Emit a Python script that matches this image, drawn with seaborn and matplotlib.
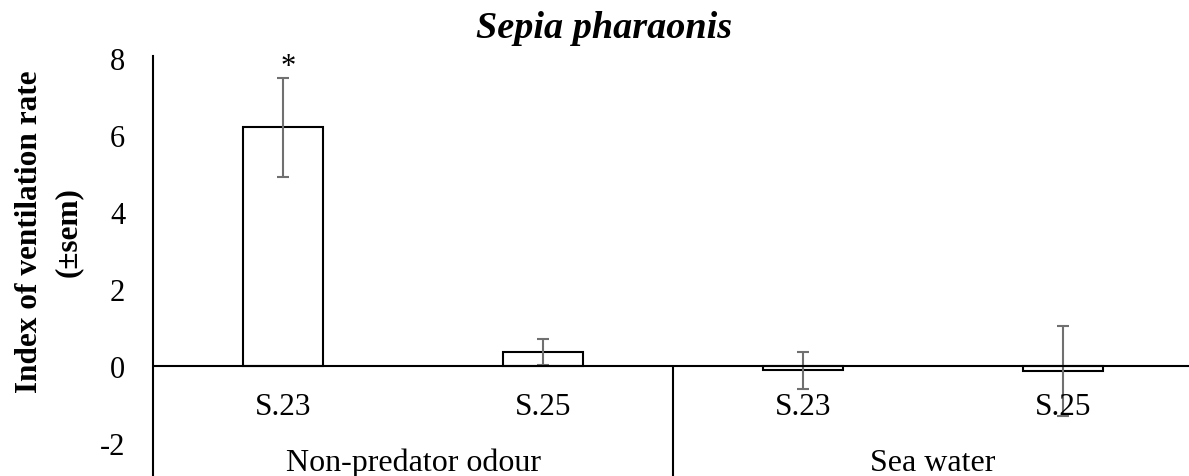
import numpy as np
import pandas as pd
import seaborn as sns
import matplotlib.pyplot as plt

# values
groups = ["Non-predator odour", "Non-predator odour", "Sea water", "Sea water"]
sites = ["S.23", "S.25", "S.23", "S.25"]
means = [6.2, 0.37, -0.11, -0.12]
sems = [1.28, 0.33, 0.49, 1.17]
stars = ["*", "", "", ""]

df = pd.DataFrame({"group": groups, "site": sites, "mean": means, "sem": sems})
df["cond"] = df["group"] + " " + df["site"]

sns.set_style("white")
plt.rcParams["font.family"] = ["Liberation Serif", "DejaVu Serif"]
plt.rcParams["axes.unicode_minus"] = False
for k in ["text.color", "axes.labelcolor", "xtick.color", "ytick.color"]:
    plt.rcParams[k] = "black"

fig = plt.figure(figsize=(11.89, 4.77), dpi=100)
ax = fig.add_axes([153 / 1189, 0.0, 1040 / 1189, 420 / 477])

sns.barplot(data=df, x="cond", y="mean", order=df["cond"], errorbar=None,
            color="white", edgecolor="black", linewidth=1.5, width=0.31,
            saturation=1, ax=ax)

xs = ax.get_xticks()
ax.errorbar(xs, df["mean"], yerr=df["sem"], fmt="none", ecolor="#707070",
            elinewidth=1.5, capsize=4.5, capthick=1.5, zorder=3)

ymin, ymax = -2.85, 8.05
ax.set_ylim(ymin, ymax)
ax.set_xlim(-0.5, 3.5)
ax.set_yticks([-2, 0, 2, 4, 6, 8])
ax.tick_params(axis="y", length=0, pad=20, labelsize=22)
ax.tick_params(axis="x", bottom=False, labelbottom=False)
ax.set_xlabel("")
ax.set_ylabel("")

for s in ["top", "right", "bottom"]:
    ax.spines[s].set_visible(False)
ax.spines["left"].set_color("black")
ax.spines["left"].set_linewidth(1.5)

ax.axhline(0, color="black", lw=1.5, zorder=4)
ax.vlines(1.5, ymin, 0, color="black", lw=1.5)

for x, s in zip(xs, df["site"]):
    ax.text(x, -1.05, s, ha="center", va="center", fontsize=22.5)

for i, g in enumerate(pd.unique(df["group"])):
    ax.text(0.5 + 2 * i, -2.5, g, ha="center", va="center", fontsize=23)

for x, m, e, st in zip(xs, df["mean"], df["sem"], stars):
    if st:
        ax.text(x + 0.02, m + e + 0.1, st, ha="center", va="baseline", fontsize=22)

fig.text(49 / 1189, 1 - 232 / 477, "Index of ventilation rate\n(±sem)",
         rotation=90, ha="center", va="center", fontsize=22.5,
         fontweight="bold", linespacing=1.45, multialignment="center")

fig.text(604 / 1189, 1 - 28 / 477, "Sepia pharaonis", ha="center", va="center",
         fontsize=27.5, fontweight="bold", fontstyle="italic")

fig.savefig("out.png", dpi=100)
